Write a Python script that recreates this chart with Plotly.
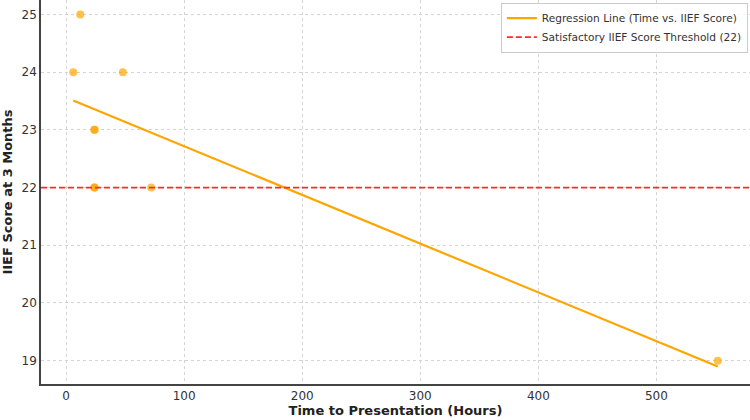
import plotly.graph_objects as go

# Data
time_hours = [6, 12, 24, 24, 24, 24, 48, 72, 552]
iief_score = [24, 25, 23, 23, 22, 22, 24, 22, 19]

reg_x = [6, 552]
reg_y = [23.51, 18.90]

threshold = 22
x_range = [-21.3, 579.3]
y_range = [18.595, 25.25]

font_family = "DejaVu Sans"
red = "#FF2A2A"

fig = go.Figure()

fig.add_trace(go.Scatter(
    x=time_hours, y=iief_score, mode="markers",
    marker=dict(color="rgba(255,165,0,0.7)", size=8, line=dict(width=0)),
    showlegend=False, hoverinfo="skip",
))

fig.add_trace(go.Scatter(
    x=reg_x, y=reg_y, mode="lines",
    line=dict(color="#FFA500", width=2.2),
    name="Regression Line (Time vs. IIEF Score)",
))

fig.add_shape(type="line", xref="paper", yref="y", x0=0, x1=1, y0=threshold, y1=threshold,
              line=dict(color=red, width=1.8, dash="6px,3px"), layer="above")

fig.add_trace(go.Scatter(
    x=[None], y=[None], mode="lines",
    line=dict(color=red, width=1.8, dash="6px,3px"),
    name=f"Satisfactory IIEF Score Threshold ({threshold})",
))

axis_common = dict(
    showgrid=True, gridcolor="#d4d4d4", griddash="dot", gridwidth=1,
    zeroline=False, showline=True, linecolor="#444444", linewidth=1.5,
    ticks="", tickfont=dict(family=font_family, size=12, color="#333333"),
    mirror=False,
)

fig.update_layout(
    width=750, height=420,
    margin=dict(l=41, r=0, t=0, b=36),
    paper_bgcolor="white", plot_bgcolor="white",
    font=dict(family=font_family, color="#222222"),
    xaxis=dict(range=x_range, tickvals=[0, 100, 200, 300, 400, 500],
               title=dict(text="<b>Time to Presentation (Hours)</b>",
                          font=dict(family=font_family, size=13, color="#222222"), standoff=4),
               **axis_common),
    yaxis=dict(range=y_range, tickvals=[19, 20, 21, 22, 23, 24, 25],
               title=dict(text="<b>IIEF Score at 3 Months</b>",
                          font=dict(family=font_family, size=13, color="#222222"), standoff=8),
               **axis_common),
    legend=dict(x=0.997, y=0.993, xanchor="right", yanchor="top",
                bgcolor="rgba(255,255,255,0.85)", bordercolor="#cccccc", borderwidth=1,
                font=dict(family=font_family, size=10.6, color="#333333"),
                tracegroupgap=0, itemwidth=30),
    showlegend=True,
)

fig.write_html("out.html")
